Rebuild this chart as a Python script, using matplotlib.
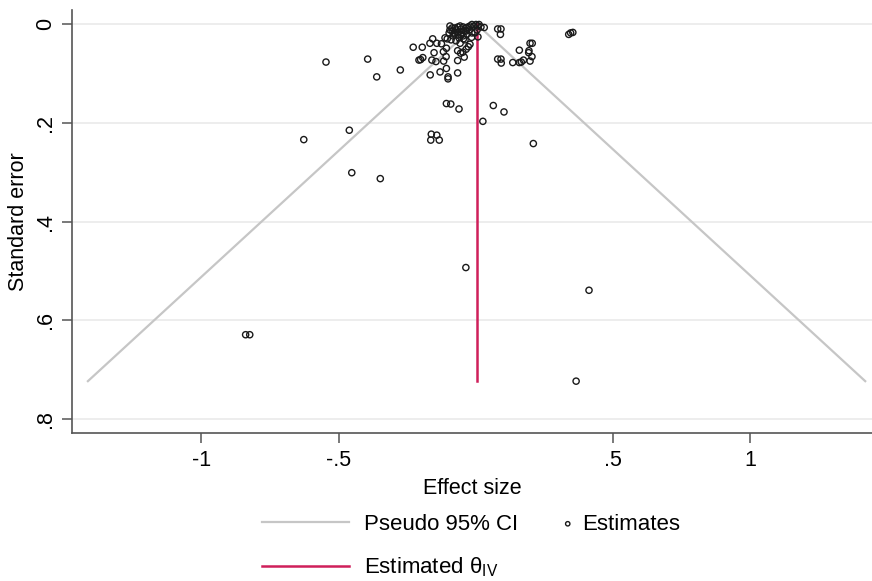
import matplotlib
matplotlib.use("Agg")
import matplotlib.pyplot as plt
import numpy as np

plt.rcParams['font.family'] = ['Liberation Sans', 'DejaVu Sans']
plt.rcParams['mathtext.fontset'] = 'custom'
plt.rcParams['mathtext.rm'] = 'Liberation Sans'
plt.rcParams['mathtext.it'] = 'Liberation Sans'

# estimates (effect size, standard error)
effect = [-0.839, -0.824, 0.366, 0.413, -0.036, -0.627, -0.461, -0.452, -0.348,
          -0.546, -0.394, -0.361, -0.275, -0.228, -0.195, -0.166, -0.130, -0.101,
          -0.101, -0.066, -0.066, -0.107, -0.108, -0.117, -0.160, -0.145, -0.201,
          -0.193, -0.207, -0.152, -0.118, -0.167, -0.157, -0.142, -0.125, -0.107,
          -0.112, -0.104, -0.066, -0.055, -0.047, -0.042, -0.035, -0.027, -0.021,
          -0.057, -0.015, -0.045,
          0.031, 0.080, 0.092, 0.090, 0.339, 0.346, 0.354, 0.198, 0.206, 0.159,
          0.194, 0.193, 0.205, 0.198, 0.174, 0.166, 0.159, 0.135, 0.080, 0.092,
          0.093,
          -0.107, -0.091, -0.061, 0.064, 0.103, 0.026, -0.162, -0.142, -0.164,
          -0.133, 0.210,
          -0.094, -0.086, -0.076, -0.076, -0.065, -0.065, -0.054, -0.054, -0.046,
          -0.043, -0.035, -0.032, -0.024, -0.021, -0.083, -0.097, -0.061, -0.039,
          -0.014, -0.006, 0.001, 0.008, 0.012, 0.019, 0.005, -0.003, 0.008,
          -0.014, -0.072, -0.090,
          -0.086, -0.072, -0.057, -0.050, -0.035, -0.094, -0.079, -0.065, -0.046,
          -0.028]
stderr = [0.629, 0.629, 0.723, 0.539, 0.493, 0.234, 0.215, 0.301, 0.313,
          0.077, 0.071, 0.107, 0.093, 0.047, 0.047, 0.103, 0.097, 0.107,
          0.111, 0.099, 0.074, 0.090, 0.066, 0.075, 0.073, 0.076, 0.072,
          0.068, 0.073, 0.058, 0.056, 0.039, 0.030, 0.039, 0.040, 0.049,
          0.028, 0.030, 0.054, 0.059, 0.057, 0.067, 0.051, 0.046, 0.041,
          0.039, 0.027, 0.030,
          0.007, 0.010, 0.010, 0.021, 0.021, 0.018, 0.017, 0.039, 0.039, 0.053,
          0.054, 0.058, 0.066, 0.075, 0.073, 0.077, 0.078, 0.078, 0.071, 0.071,
          0.079,
          0.161, 0.162, 0.172, 0.165, 0.178, 0.197, 0.223, 0.225, 0.235,
          0.235, 0.242,
          0.004, 0.014, 0.008, 0.020, 0.006, 0.016, 0.010, 0.022, 0.006,
          0.014, 0.008, 0.020, 0.012, 0.004, 0.024, 0.018, 0.028, 0.032,
          0.001, 0.004, 0.001, 0.004, 0.001, 0.006, 0.012, 0.018, 0.026,
          0.018, 0.034, 0.032,
          0.008, 0.012, 0.004, 0.018, 0.014, 0.012, 0.018, 0.022, 0.024,
          0.006]
theta_iv = 0.003

x_ticks = [-1, -0.5, 0.5, 1]
x_ticklabels = ['-1', '-.5', '.5', '1']
y_ticks = [0, 0.2, 0.4, 0.6, 0.8]
y_ticklabels = ['0', '.2', '.4', '.6', '.8']

effect = np.array(effect)
stderr = np.array(stderr)

# pseudo 95% confidence limits
se_line = np.array([0, stderr.max()])
lower = theta_iv - 1.96 * se_line
upper = theta_iv + 1.96 * se_line

fig = plt.figure(figsize=(8.72, 5.81), dpi=100)
ax = fig.add_axes([0.083, 0.2547, 0.917, 0.7281])

ax.grid(axis='y', color='#eaeaea', linewidth=1.2, zorder=0)
ax.set_axisbelow(True)

ci_line, = ax.plot(lower, se_line, color='#c6c6c6', linewidth=1.6, zorder=2)
ax.plot(upper, se_line, color='#c6c6c6', linewidth=1.6, zorder=2)
theta_line, = ax.plot([theta_iv, theta_iv], se_line, color='#cf1f5a', linewidth=1.8, zorder=3)
pts = ax.scatter(effect, stderr, s=20, facecolors='none', edgecolors='#1a1a1a',
                 linewidths=1.0, zorder=4)

ax.set_xlim(-1.4707, 1.4448)
ax.set_ylim(0.828, -0.0284)

ax.set_xticks(x_ticks)
ax.set_xticklabels(x_ticklabels, fontsize=15.5)
ax.set_yticks(y_ticks)
ax.set_yticklabels(y_ticklabels, fontsize=15.5, rotation=90, va='center')

for s in ['top', 'right']:
    ax.spines[s].set_visible(False)
for s in ['left', 'bottom']:
    ax.spines[s].set_color('#555555')
    ax.spines[s].set_linewidth(1.2)
ax.tick_params(direction='out', length=7, width=1.1, color='#555555', pad=5)

ax.set_xlabel('Effect size', fontsize=15.5, labelpad=5)
ax.set_ylabel('Standard error', fontsize=15.5, labelpad=4)

leg1 = fig.legend([ci_line, theta_line], ['Pseudo 95% CI', 'Estimated θ$_{\\mathrm{IV}}$'],
                  loc='upper left', bbox_to_anchor=(0.301, 0.116), frameon=False,
                  fontsize=16, handlelength=3.9, handletextpad=0.66, labelspacing=0.95,
                  borderaxespad=0, borderpad=0)
leg2 = fig.legend([pts], ['Estimates'], loc='upper left', bbox_to_anchor=(0.6447, 0.116),
                  frameon=False, fontsize=16, handlelength=0.5, handletextpad=0.4,
                  borderaxespad=0, borderpad=0, scatterpoints=1, markerscale=0.7)

fig.savefig('out.png', dpi=100)
